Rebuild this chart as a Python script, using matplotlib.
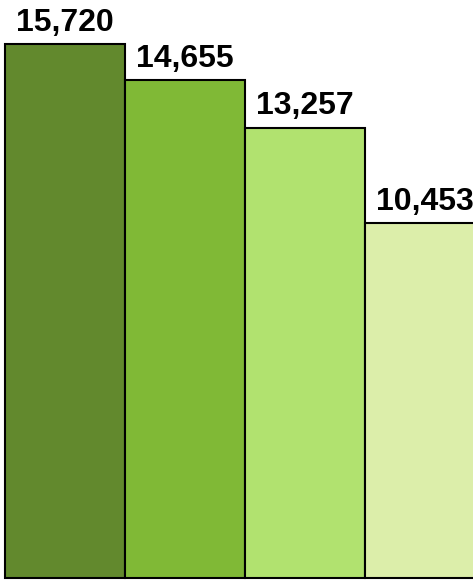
import matplotlib
matplotlib.use('Agg')
import matplotlib.pyplot as plt

categories = ['A', 'B', 'C', 'D']
values = [15720, 14655, 13257, 10453]
colors = ['#62892D', '#80B936', '#B1E26F', '#DCEEAA']

fig = plt.figure(figsize=(4.73, 5.80), dpi=100)
ax = fig.add_axes([0, 0, 1, 1])

x = range(len(values))
ax.bar(x, values, width=1.0, color=colors, edgecolor='black', linewidth=1.5)

for i, v in enumerate(values):
    ax.text(i, v + 390, f'{v:,}', ha='center', va='baseline',
            fontsize=23, fontweight='bold', family='Liberation Sans')

ax.set_xlim(-0.545, 3.40)
ax.set_ylim(-60, 17015)
ax.axis('off')

fig.savefig('out.png', dpi=100)
